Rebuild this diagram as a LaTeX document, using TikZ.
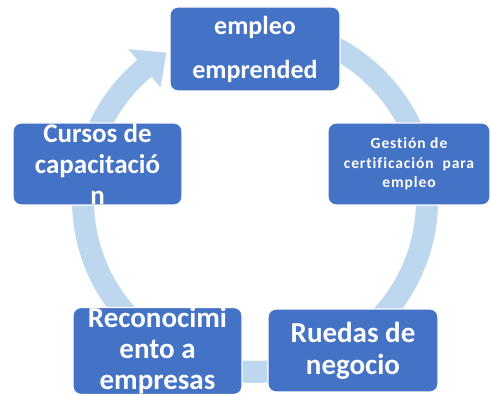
\documentclass[tikz,border=0pt]{standalone}
\usepackage{fontspec}
\setmainfont{Carlito}[RawFeature=-liga]
\newfontfamily\spacedfont[LetterSpace=6,RawFeature=-liga]{Carlito}
\usetikzlibrary{calc}
\definecolor{boxblue}{HTML}{4472C4}
\definecolor{ringblue}{HTML}{BDD7EE}
\begin{document}
\begin{tikzpicture}[x=1pt,y=1pt,
  cyclebox/.style={draw=white, line width=1.2pt, fill=boxblue, rounded corners=8pt,
    text=white, align=center, inner sep=0pt, font=\bfseries},
  bigtext/.style={font=\fontsize{29}{31}\selectfont\bfseries},
  smalltext/.style={font=\spacedfont\fontsize{15.5}{19.5}\selectfont\bfseries}]
\useasboundingbox (0,0) rectangle (492,395);
\coordinate (c) at (255,195);
% ring with arrowhead
\fill[ringblue]
  ($(c)+(95:183)$) arc[start angle=95, end angle=-230, radius=183]
  -- ($(c)+(130:197)$) -- ($(c)+(121:172)$) -- ($(c)+(130:147)$)
  -- ($(c)+(130:161)$) arc[start angle=-230, end angle=95, radius=161] -- cycle;
% boxes
\node[cyclebox, minimum width=170, minimum height=84,
  font=\fontsize{26}{44}\selectfont\bfseries] (top) at (255,346) {empleo\\emprended};
\node[cyclebox, minimum width=162, minimum height=82, smalltext] (right) at (409,231)
  {Gestión de\\certificación~ para\\empleo};
\node[cyclebox, minimum width=169, minimum height=82,
  font=\fontsize{27}{31}\selectfont\bfseries] (left) at (97.5,231) {Cursos de\\capacitació\\n};
\node[cyclebox, minimum width=169, minimum height=82, bigtext] (bl) at (157.5,44)
  {Reconocimi\\ento a\\empresas};
\node[cyclebox, minimum width=170, minimum height=83, bigtext,
  font=\fontsize{29}{32}\selectfont\bfseries] (br) at (353,44.5)
  {Ruedas de\\negocio};
\end{tikzpicture}
\end{document}
